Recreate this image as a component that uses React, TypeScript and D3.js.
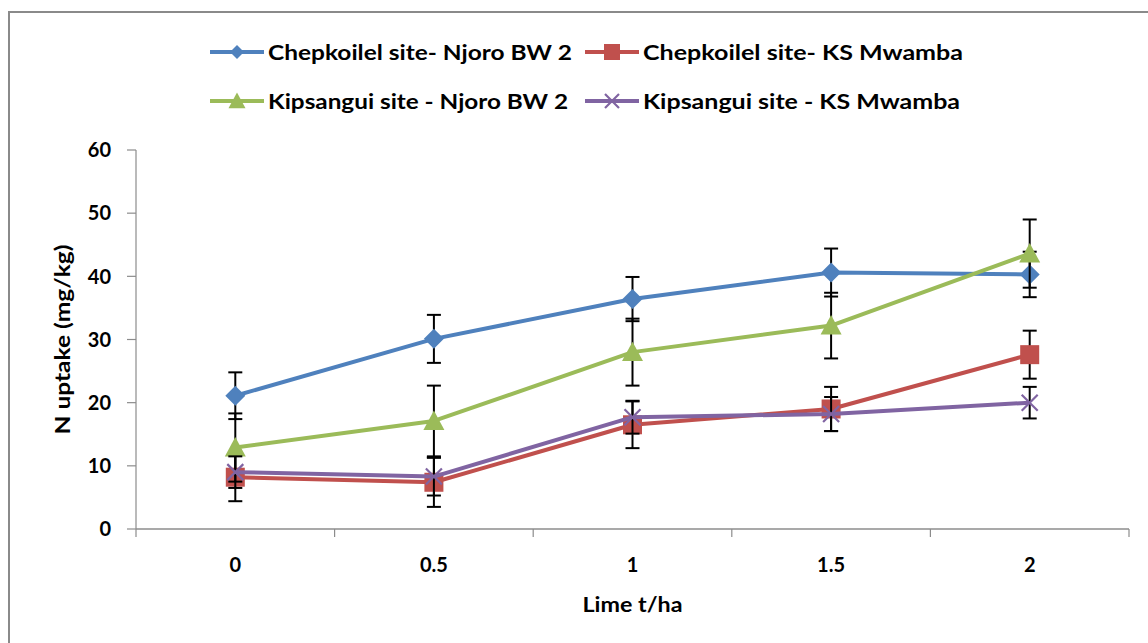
import React from "react";
import * as d3 from "d3";

// Lime application rates (t/ha)
const limeRates = ["0", "0.5", "1", "1.5", "2"];

// N uptake (mg/kg) per site / variety, with error bar half-widths
const chepNjoro = [21.1, 30.1, 36.4, 40.6, 40.3];
const chepNjoroErr = [3.7, 3.8, 3.5, 3.8, 3.6];
const chepMwamba = [8.2, 7.4, 16.5, 19.0, 27.6];
const chepMwambaErr = [3.8, 3.9, 3.7, 3.5, 3.8];
const kipNjoro = [12.9, 17.1, 28.0, 32.2, 43.6];
const kipNjoroErr = [5.4, 5.6, 5.3, 5.2, 5.4];
const kipMwamba = [9.0, 8.3, 17.7, 18.2, 20.0];
const kipMwambaErr = [2.5, 3.0, 2.6, 2.7, 2.5];

const yTicks = [0, 10, 20, 30, 40, 50, 60];

type Shape = "diamond" | "square" | "triangle" | "cross";

const series: { name: string; values: number[]; err: number[]; color: string; shape: Shape; labelWidth: number }[] = [
  { name: "Chepkoilel site- Njoro BW 2", values: chepNjoro, err: chepNjoroErr, color: "#4F81BD", shape: "diamond", labelWidth: 304 },
  { name: "Chepkoilel site- KS Mwamba", values: chepMwamba, err: chepMwambaErr, color: "#C0504D", shape: "square", labelWidth: 320 },
  { name: "Kipsangui site - Njoro BW 2", values: kipNjoro, err: kipNjoroErr, color: "#9BBB59", shape: "triangle", labelWidth: 300 },
  { name: "Kipsangui site - KS Mwamba", values: kipMwamba, err: kipMwambaErr, color: "#8064A2", shape: "cross", labelWidth: 317 },
];

const FONT = "Lato, 'Open Sans', sans-serif";
const AXIS = "#8c8c8c";

function Marker({ shape, x, y, color, s }: { shape: Shape; x: number; y: number; color: string; s: number }) {
  const h = s / 2;
  if (shape === "diamond") {
    return <path d={`M${x},${y - h}L${x + h},${y}L${x},${y + h}L${x - h},${y}Z`} fill={color} />;
  }
  if (shape === "square") {
    return <rect x={x - h} y={y - h} width={s} height={s} fill={color} />;
  }
  if (shape === "triangle") {
    return <path d={`M${x},${y - h}L${x + h},${y + h * 0.85}L${x - h},${y + h * 0.85}Z`} fill={color} />;
  }
  return (
    <path
      d={`M${x - h},${y - h}L${x + h},${y + h}M${x - h},${y + h}L${x + h},${y - h}`}
      stroke={color}
      strokeWidth={2.2}
      fill="none"
    />
  );
}

const markerSize: Record<Shape, number> = { diamond: 20, square: 19, triangle: 21, cross: 16 };
const legendMarkerSize: Record<Shape, number> = { diamond: 14, square: 16, triangle: 17, cross: 14 };

export default function App() {
  const width = 1148;
  const height = 643;
  const left = 136;
  const right = 1129;
  const top = 150;
  const bottom = 529;

  const x = d3.scaleBand<string>().domain(limeRates).range([left, right]).padding(0);
  const y = d3.scaleLinear().domain([0, 60]).range([bottom, top]);
  const cx = (c: string) => (x(c) as number) + x.bandwidth() / 2;

  const line = d3
    .line<number>()
    .x((_, i) => cx(limeRates[i]))
    .y((v) => y(v));

  const boundaries = limeRates.map((c) => x(c) as number).concat([right]);

  const legendRows = [
    { y: 52, items: [series[0], series[1]] },
    { y: 101, items: [series[2], series[3]] },
  ];
  const legendCols = [210, 585];

  return (
    <svg
      width={width}
      height={height}
      style={{ position: "absolute", left: 0, top: 0, background: "#fff" }}
      fontFamily={FONT}
    >
      {/* chart frame */}
      <path d={`M9,${height + 5}L9,12L${width + 5},12`} stroke="#8a8a8a" strokeWidth={2} fill="none" />

      {/* legend */}
      {legendRows.map((row, ri) =>
        row.items.map((s, ci) => {
          const lx = legendCols[ci];
          return (
            <g key={`${ri}-${ci}`}>
              <line x1={lx} x2={lx + 54} y1={row.y} y2={row.y} stroke={s.color} strokeWidth={4} />
              <Marker shape={s.shape} x={lx + 27} y={row.y} color={s.color} s={legendMarkerSize[s.shape]} />
              <text
                x={lx + 58}
                y={row.y}
                dy="0.36em"
                fontSize={21}
                fontWeight="bold"
                fill="#000"
                textLength={s.labelWidth}
                lengthAdjust="spacingAndGlyphs"
              >
                {s.name}
              </text>
            </g>
          );
        })
      )}

      {/* y axis */}
      <line x1={left} x2={left} y1={top} y2={bottom} stroke={AXIS} strokeWidth={1.2} />
      {yTicks.map((t) => (
        <g key={t}>
          <line x1={left - 9} x2={left} y1={y(t)} y2={y(t)} stroke={AXIS} strokeWidth={1.2} />
          <text x={111} y={y(t)} dy="0.36em" textAnchor="end" fontSize={20} fontWeight="bold">
            {t}
          </text>
        </g>
      ))}

      {/* x axis */}
      <line x1={left} x2={right} y1={bottom} y2={bottom} stroke={AXIS} strokeWidth={1.5} />
      {boundaries.map((b, i) => (
        <line key={i} x1={b} x2={b} y1={bottom} y2={bottom + 8} stroke={AXIS} strokeWidth={1.2} />
      ))}
      {limeRates.map((c) => (
        <text key={c} x={cx(c)} y={565} dy="0.36em" textAnchor="middle" fontSize={20} fontWeight="bold">
          {c}
        </text>
      ))}

      {/* axis titles */}
      <text
        x={cx("1")}
        y={605}
        dy="0.36em"
        textAnchor="middle"
        fontSize={20}
        fontWeight="bold"
        textLength={100}
        lengthAdjust="spacingAndGlyphs"
      >
        Lime t/ha
      </text>
      <text
        transform={`translate(63,${(top + bottom) / 2}) rotate(-90)`}
        textAnchor="middle"
        dy="0.36em"
        fontSize={20}
        fontWeight="bold"
        textLength={190}
        lengthAdjust="spacingAndGlyphs"
      >
        N uptake (mg/kg)
      </text>

      {/* series: line, error bars, markers */}
      {series.map((s) => (
        <g key={s.name}>
          <path d={line(s.values) || ""} fill="none" stroke={s.color} strokeWidth={4} strokeLinejoin="round" />
          {s.values.map((v, i) => {
            const px = cx(limeRates[i]);
            const y1 = y(v + s.err[i]);
            const y2 = y(v - s.err[i]);
            return (
              <g key={i} stroke="#000" strokeWidth={2}>
                <line x1={px} x2={px} y1={y1} y2={y2} />
                <line x1={px - 7} x2={px + 7} y1={y1} y2={y1} />
                <line x1={px - 7} x2={px + 7} y1={y2} y2={y2} />
              </g>
            );
          })}
          {s.values.map((v, i) => (
            <Marker key={i} shape={s.shape} x={cx(limeRates[i])} y={y(v)} color={s.color} s={markerSize[s.shape]} />
          ))}
        </g>
      ))}
    </svg>
  );
}
